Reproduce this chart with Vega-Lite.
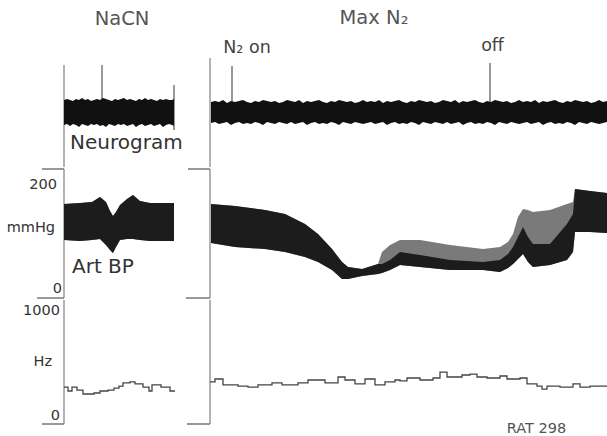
{
  "$schema": "https://vega.github.io/schema/vega-lite/v6.json",
  "padding": 0,
  "spacing": 0,
  "background": "white",
  "config": {"view": {"stroke": null}, "font": "DejaVu Sans", "concat": {"spacing": 0}},
  "datasets": {
    "neuro": [
      {"seg": "NaCN", "t": 0, "top": 12, "bot": -13},
      {"seg": "NaCN", "t": 3, "top": 13, "bot": -12},
      {"seg": "NaCN", "t": 6, "top": 12, "bot": -14},
      {"seg": "NaCN", "t": 9, "top": 11, "bot": -12},
      {"seg": "NaCN", "t": 12, "top": 13, "bot": -13},
      {"seg": "NaCN", "t": 15, "top": 12, "bot": -15},
      {"seg": "NaCN", "t": 18, "top": 14, "bot": -12},
      {"seg": "NaCN", "t": 21, "top": 12, "bot": -13},
      {"seg": "NaCN", "t": 24, "top": 13, "bot": -14},
      {"seg": "NaCN", "t": 27, "top": 11, "bot": -12},
      {"seg": "NaCN", "t": 30, "top": 12, "bot": -13},
      {"seg": "NaCN", "t": 33, "top": 13, "bot": -12},
      {"seg": "NaCN", "t": 36, "top": 12, "bot": -14},
      {"seg": "NaCN", "t": 39, "top": 14, "bot": -13},
      {"seg": "NaCN", "t": 42, "top": 13, "bot": -15},
      {"seg": "NaCN", "t": 45, "top": 12, "bot": -12},
      {"seg": "NaCN", "t": 48, "top": 11, "bot": -13},
      {"seg": "NaCN", "t": 51, "top": 13, "bot": -14},
      {"seg": "NaCN", "t": 54, "top": 12, "bot": -12},
      {"seg": "NaCN", "t": 57, "top": 13, "bot": -13},
      {"seg": "NaCN", "t": 60, "top": 14, "bot": -12},
      {"seg": "NaCN", "t": 63, "top": 12, "bot": -14},
      {"seg": "NaCN", "t": 66, "top": 13, "bot": -13},
      {"seg": "NaCN", "t": 69, "top": 12, "bot": -12},
      {"seg": "NaCN", "t": 72, "top": 11, "bot": -15},
      {"seg": "NaCN", "t": 75, "top": 13, "bot": -13},
      {"seg": "NaCN", "t": 78, "top": 12, "bot": -12},
      {"seg": "NaCN", "t": 81, "top": 14, "bot": -14},
      {"seg": "NaCN", "t": 84, "top": 12, "bot": -13},
      {"seg": "NaCN", "t": 87, "top": 13, "bot": -12},
      {"seg": "NaCN", "t": 90, "top": 12, "bot": -14},
      {"seg": "NaCN", "t": 93, "top": 11, "bot": -13},
      {"seg": "NaCN", "t": 96, "top": 13, "bot": -12},
      {"seg": "NaCN", "t": 99, "top": 12, "bot": -15},
      {"seg": "NaCN", "t": 102, "top": 13, "bot": -13},
      {"seg": "NaCN", "t": 105, "top": 12, "bot": -12},
      {"seg": "NaCN", "t": 108, "top": 12, "bot": -13},
      {"seg": "NaCN", "t": 110, "top": 13, "bot": -14},
      {"seg": "MaxN2", "t": 147, "top": 10, "bot": -11},
      {"seg": "MaxN2", "t": 151, "top": 11, "bot": -10},
      {"seg": "MaxN2", "t": 155, "top": 10, "bot": -12},
      {"seg": "MaxN2", "t": 159, "top": 12, "bot": -11},
      {"seg": "MaxN2", "t": 163, "top": 9, "bot": -10},
      {"seg": "MaxN2", "t": 167, "top": 11, "bot": -13},
      {"seg": "MaxN2", "t": 171, "top": 10, "bot": -11},
      {"seg": "MaxN2", "t": 175, "top": 11, "bot": -10},
      {"seg": "MaxN2", "t": 179, "top": 12, "bot": -12},
      {"seg": "MaxN2", "t": 183, "top": 10, "bot": -11},
      {"seg": "MaxN2", "t": 187, "top": 9, "bot": -12},
      {"seg": "MaxN2", "t": 191, "top": 11, "bot": -10},
      {"seg": "MaxN2", "t": 195, "top": 10, "bot": -11},
      {"seg": "MaxN2", "t": 199, "top": 12, "bot": -13},
      {"seg": "MaxN2", "t": 203, "top": 11, "bot": -10},
      {"seg": "MaxN2", "t": 207, "top": 10, "bot": -11},
      {"seg": "MaxN2", "t": 211, "top": 11, "bot": -12},
      {"seg": "MaxN2", "t": 215, "top": 9, "bot": -10},
      {"seg": "MaxN2", "t": 219, "top": 10, "bot": -11},
      {"seg": "MaxN2", "t": 223, "top": 12, "bot": -12},
      {"seg": "MaxN2", "t": 227, "top": 11, "bot": -10},
      {"seg": "MaxN2", "t": 231, "top": 10, "bot": -12},
      {"seg": "MaxN2", "t": 235, "top": 12, "bot": -11},
      {"seg": "MaxN2", "t": 239, "top": 9, "bot": -10},
      {"seg": "MaxN2", "t": 243, "top": 11, "bot": -13},
      {"seg": "MaxN2", "t": 247, "top": 10, "bot": -11},
      {"seg": "MaxN2", "t": 251, "top": 11, "bot": -10},
      {"seg": "MaxN2", "t": 255, "top": 12, "bot": -12},
      {"seg": "MaxN2", "t": 259, "top": 10, "bot": -11},
      {"seg": "MaxN2", "t": 263, "top": 9, "bot": -12},
      {"seg": "MaxN2", "t": 267, "top": 11, "bot": -10},
      {"seg": "MaxN2", "t": 271, "top": 10, "bot": -11},
      {"seg": "MaxN2", "t": 275, "top": 12, "bot": -13},
      {"seg": "MaxN2", "t": 279, "top": 11, "bot": -10},
      {"seg": "MaxN2", "t": 283, "top": 10, "bot": -11},
      {"seg": "MaxN2", "t": 287, "top": 11, "bot": -12},
      {"seg": "MaxN2", "t": 291, "top": 9, "bot": -10},
      {"seg": "MaxN2", "t": 295, "top": 10, "bot": -11},
      {"seg": "MaxN2", "t": 299, "top": 12, "bot": -12},
      {"seg": "MaxN2", "t": 303, "top": 10, "bot": -11},
      {"seg": "MaxN2", "t": 307, "top": 11, "bot": -10},
      {"seg": "MaxN2", "t": 311, "top": 10, "bot": -12},
      {"seg": "MaxN2", "t": 315, "top": 12, "bot": -11},
      {"seg": "MaxN2", "t": 319, "top": 9, "bot": -10},
      {"seg": "MaxN2", "t": 323, "top": 11, "bot": -13},
      {"seg": "MaxN2", "t": 327, "top": 10, "bot": -11},
      {"seg": "MaxN2", "t": 331, "top": 11, "bot": -10},
      {"seg": "MaxN2", "t": 335, "top": 12, "bot": -12},
      {"seg": "MaxN2", "t": 339, "top": 10, "bot": -11},
      {"seg": "MaxN2", "t": 343, "top": 9, "bot": -12},
      {"seg": "MaxN2", "t": 347, "top": 11, "bot": -10},
      {"seg": "MaxN2", "t": 351, "top": 10, "bot": -11},
      {"seg": "MaxN2", "t": 355, "top": 12, "bot": -13},
      {"seg": "MaxN2", "t": 359, "top": 11, "bot": -10},
      {"seg": "MaxN2", "t": 363, "top": 10, "bot": -11},
      {"seg": "MaxN2", "t": 367, "top": 11, "bot": -12},
      {"seg": "MaxN2", "t": 371, "top": 9, "bot": -10},
      {"seg": "MaxN2", "t": 375, "top": 10, "bot": -11},
      {"seg": "MaxN2", "t": 379, "top": 12, "bot": -12},
      {"seg": "MaxN2", "t": 383, "top": 11, "bot": -10},
      {"seg": "MaxN2", "t": 387, "top": 10, "bot": -12},
      {"seg": "MaxN2", "t": 391, "top": 12, "bot": -11},
      {"seg": "MaxN2", "t": 395, "top": 9, "bot": -10},
      {"seg": "MaxN2", "t": 399, "top": 11, "bot": -13},
      {"seg": "MaxN2", "t": 403, "top": 10, "bot": -11},
      {"seg": "MaxN2", "t": 407, "top": 11, "bot": -10},
      {"seg": "MaxN2", "t": 411, "top": 12, "bot": -12},
      {"seg": "MaxN2", "t": 415, "top": 10, "bot": -11},
      {"seg": "MaxN2", "t": 419, "top": 9, "bot": -12},
      {"seg": "MaxN2", "t": 423, "top": 11, "bot": -10},
      {"seg": "MaxN2", "t": 427, "top": 10, "bot": -11},
      {"seg": "MaxN2", "t": 431, "top": 12, "bot": -13},
      {"seg": "MaxN2", "t": 435, "top": 11, "bot": -10},
      {"seg": "MaxN2", "t": 439, "top": 10, "bot": -11},
      {"seg": "MaxN2", "t": 443, "top": 11, "bot": -12},
      {"seg": "MaxN2", "t": 447, "top": 9, "bot": -10},
      {"seg": "MaxN2", "t": 451, "top": 10, "bot": -11},
      {"seg": "MaxN2", "t": 455, "top": 12, "bot": -12},
      {"seg": "MaxN2", "t": 459, "top": 10, "bot": -11},
      {"seg": "MaxN2", "t": 463, "top": 11, "bot": -10},
      {"seg": "MaxN2", "t": 467, "top": 10, "bot": -12},
      {"seg": "MaxN2", "t": 471, "top": 12, "bot": -11},
      {"seg": "MaxN2", "t": 475, "top": 9, "bot": -10},
      {"seg": "MaxN2", "t": 479, "top": 11, "bot": -13},
      {"seg": "MaxN2", "t": 483, "top": 10, "bot": -11},
      {"seg": "MaxN2", "t": 487, "top": 11, "bot": -10},
      {"seg": "MaxN2", "t": 491, "top": 12, "bot": -12},
      {"seg": "MaxN2", "t": 495, "top": 10, "bot": -11},
      {"seg": "MaxN2", "t": 499, "top": 9, "bot": -12},
      {"seg": "MaxN2", "t": 503, "top": 11, "bot": -10},
      {"seg": "MaxN2", "t": 507, "top": 10, "bot": -11},
      {"seg": "MaxN2", "t": 511, "top": 12, "bot": -13},
      {"seg": "MaxN2", "t": 515, "top": 11, "bot": -10},
      {"seg": "MaxN2", "t": 519, "top": 10, "bot": -11},
      {"seg": "MaxN2", "t": 523, "top": 11, "bot": -12},
      {"seg": "MaxN2", "t": 527, "top": 9, "bot": -10},
      {"seg": "MaxN2", "t": 531, "top": 10, "bot": -11},
      {"seg": "MaxN2", "t": 535, "top": 12, "bot": -12},
      {"seg": "MaxN2", "t": 539, "top": 10, "bot": -11},
      {"seg": "MaxN2", "t": 543, "top": 11, "bot": -10}
    ],
    "bp": [
      {"seg": "NaCN", "t": 0, "g": 145.7, "top": 145.7, "bot": 89.9},
      {"seg": "NaCN", "t": 16, "g": 147.3, "top": 147.3, "bot": 88.4},
      {"seg": "NaCN", "t": 28, "g": 148.8, "top": 148.8, "bot": 89.9},
      {"seg": "NaCN", "t": 36, "g": 156.6, "top": 156.6, "bot": 91.5},
      {"seg": "NaCN", "t": 42, "g": 148.8, "top": 148.8, "bot": 82.2},
      {"seg": "NaCN", "t": 46, "g": 134.9, "top": 134.9, "bot": 74.4},
      {"seg": "NaCN", "t": 49, "g": 127.1, "top": 127.1, "bot": 69.8},
      {"seg": "NaCN", "t": 52, "g": 133.3, "top": 133.3, "bot": 79.1},
      {"seg": "NaCN", "t": 56, "g": 144.2, "top": 144.2, "bot": 89.9},
      {"seg": "NaCN", "t": 63, "g": 153.5, "top": 153.5, "bot": 91.5},
      {"seg": "NaCN", "t": 69, "g": 159.7, "top": 159.7, "bot": 91.5},
      {"seg": "NaCN", "t": 76, "g": 150.4, "top": 150.4, "bot": 89.9},
      {"seg": "NaCN", "t": 86, "g": 147.3, "top": 147.3, "bot": 88.4},
      {"seg": "NaCN", "t": 96, "g": 147.3, "top": 147.3, "bot": 88.4},
      {"seg": "NaCN", "t": 110, "g": 147.3, "top": 147.3, "bot": 88.4},
      {"seg": "MaxN2", "t": 147, "g": 145.7, "top": 145.7, "bot": 85.3},
      {"seg": "MaxN2", "t": 171, "g": 142.6, "top": 142.6, "bot": 79.1},
      {"seg": "MaxN2", "t": 201, "g": 136.4, "top": 136.4, "bot": 76.0},
      {"seg": "MaxN2", "t": 221, "g": 130.2, "top": 130.2, "bot": 71.3},
      {"seg": "MaxN2", "t": 241, "g": 114.7, "top": 114.7, "bot": 63.6},
      {"seg": "MaxN2", "t": 254, "g": 99.2, "top": 99.2, "bot": 55.8},
      {"seg": "MaxN2", "t": 268, "g": 76.0, "top": 76.0, "bot": 43.4},
      {"seg": "MaxN2", "t": 278, "g": 55.8, "top": 55.8, "bot": 29.5},
      {"seg": "MaxN2", "t": 284, "g": 48.1, "top": 48.1, "bot": 29.5},
      {"seg": "MaxN2", "t": 298, "g": 45.0, "top": 45.0, "bot": 34.1},
      {"seg": "MaxN2", "t": 314, "g": 52.7, "top": 52.7, "bot": 37.2},
      {"seg": "MaxN2", "t": 318, "g": 71.3, "top": 52.7, "bot": 38.8},
      {"seg": "MaxN2", "t": 326, "g": 82.2, "top": 58.9, "bot": 43.4},
      {"seg": "MaxN2", "t": 336, "g": 89.9, "top": 71.3, "bot": 51.2},
      {"seg": "MaxN2", "t": 356, "g": 89.9, "top": 66.7, "bot": 48.1},
      {"seg": "MaxN2", "t": 386, "g": 82.2, "top": 58.9, "bot": 43.4},
      {"seg": "MaxN2", "t": 419, "g": 76.0, "top": 55.8, "bot": 43.4},
      {"seg": "MaxN2", "t": 436, "g": 79.1, "top": 58.9, "bot": 40.3},
      {"seg": "MaxN2", "t": 444, "g": 86.8, "top": 68.2, "bot": 46.5},
      {"seg": "MaxN2", "t": 449, "g": 99.2, "top": 79.1, "bot": 52.7},
      {"seg": "MaxN2", "t": 454, "g": 125.6, "top": 94.6, "bot": 60.5},
      {"seg": "MaxN2", "t": 459, "g": 138.0, "top": 110.1, "bot": 68.2},
      {"seg": "MaxN2", "t": 464, "g": 136.4, "top": 94.6, "bot": 55.8},
      {"seg": "MaxN2", "t": 469, "g": 133.3, "top": 83.7, "bot": 48.1},
      {"seg": "MaxN2", "t": 486, "g": 136.4, "top": 83.7, "bot": 51.2},
      {"seg": "MaxN2", "t": 503, "g": 145.7, "top": 114.7, "bot": 58.9},
      {"seg": "MaxN2", "t": 509, "g": 148.8, "top": 130.2, "bot": 71.3},
      {"seg": "MaxN2", "t": 511, "g": 169.0, "top": 169.0, "bot": 102.3},
      {"seg": "MaxN2", "t": 526, "g": 165.9, "top": 165.9, "bot": 102.3},
      {"seg": "MaxN2", "t": 543, "g": 162.8, "top": 162.8, "bot": 100.8}
    ],
    "hz": [
      {"seg": "NaCN", "t": 0, "hz": 298},
      {"seg": "NaCN", "t": 4, "hz": 266},
      {"seg": "NaCN", "t": 8, "hz": 298},
      {"seg": "NaCN", "t": 13, "hz": 274},
      {"seg": "NaCN", "t": 19, "hz": 242},
      {"seg": "NaCN", "t": 30, "hz": 250},
      {"seg": "NaCN", "t": 36, "hz": 266},
      {"seg": "NaCN", "t": 44, "hz": 274},
      {"seg": "NaCN", "t": 50, "hz": 290},
      {"seg": "NaCN", "t": 55, "hz": 306},
      {"seg": "NaCN", "t": 59, "hz": 331},
      {"seg": "NaCN", "t": 66, "hz": 339},
      {"seg": "NaCN", "t": 71, "hz": 323},
      {"seg": "NaCN", "t": 79, "hz": 298},
      {"seg": "NaCN", "t": 85, "hz": 266},
      {"seg": "NaCN", "t": 88, "hz": 315},
      {"seg": "NaCN", "t": 97, "hz": 298},
      {"seg": "NaCN", "t": 106, "hz": 266},
      {"seg": "NaCN", "t": 111, "hz": 266},
      {"seg": "MaxN2", "t": 146, "hz": 339},
      {"seg": "MaxN2", "t": 151, "hz": 363},
      {"seg": "MaxN2", "t": 159, "hz": 315},
      {"seg": "MaxN2", "t": 174, "hz": 306},
      {"seg": "MaxN2", "t": 184, "hz": 298},
      {"seg": "MaxN2", "t": 194, "hz": 315},
      {"seg": "MaxN2", "t": 208, "hz": 331},
      {"seg": "MaxN2", "t": 218, "hz": 315},
      {"seg": "MaxN2", "t": 234, "hz": 331},
      {"seg": "MaxN2", "t": 244, "hz": 355},
      {"seg": "MaxN2", "t": 261, "hz": 331},
      {"seg": "MaxN2", "t": 274, "hz": 379},
      {"seg": "MaxN2", "t": 281, "hz": 355},
      {"seg": "MaxN2", "t": 291, "hz": 323},
      {"seg": "MaxN2", "t": 301, "hz": 363},
      {"seg": "MaxN2", "t": 311, "hz": 315},
      {"seg": "MaxN2", "t": 321, "hz": 339},
      {"seg": "MaxN2", "t": 331, "hz": 355},
      {"seg": "MaxN2", "t": 336, "hz": 347},
      {"seg": "MaxN2", "t": 343, "hz": 371},
      {"seg": "MaxN2", "t": 356, "hz": 355},
      {"seg": "MaxN2", "t": 369, "hz": 371},
      {"seg": "MaxN2", "t": 376, "hz": 419},
      {"seg": "MaxN2", "t": 383, "hz": 379},
      {"seg": "MaxN2", "t": 398, "hz": 395},
      {"seg": "MaxN2", "t": 406, "hz": 403},
      {"seg": "MaxN2", "t": 413, "hz": 379},
      {"seg": "MaxN2", "t": 423, "hz": 371},
      {"seg": "MaxN2", "t": 436, "hz": 387},
      {"seg": "MaxN2", "t": 443, "hz": 363},
      {"seg": "MaxN2", "t": 456, "hz": 371},
      {"seg": "MaxN2", "t": 463, "hz": 323},
      {"seg": "MaxN2", "t": 473, "hz": 306},
      {"seg": "MaxN2", "t": 478, "hz": 282},
      {"seg": "MaxN2", "t": 483, "hz": 306},
      {"seg": "MaxN2", "t": 496, "hz": 298},
      {"seg": "MaxN2", "t": 509, "hz": 323},
      {"seg": "MaxN2", "t": 516, "hz": 298},
      {"seg": "MaxN2", "t": 526, "hz": 306},
      {"seg": "MaxN2", "t": 543, "hz": 306}
    ],
    "rules": [
      {"row": "neuro", "kind": "frame", "t": 0, "t2": 0, "v": 47, "v2": -55},
      {"row": "neuro", "kind": "frame", "t": 146, "t2": 146, "v": 54, "v2": -55},
      {"row": "neuro", "kind": "marker", "t": 38, "t2": 38, "v": 47, "v2": 12},
      {"row": "neuro", "kind": "marker", "t": 168, "t2": 168, "v": 46, "v2": 10},
      {"row": "neuro", "kind": "marker", "t": 426, "t2": 426, "v": 49, "v2": 10},
      {"row": "neuro", "kind": "marker", "t": 110, "t2": 110, "v": 27, "v2": -18},
      {"row": "bp", "kind": "frame", "t": 0, "t2": 0, "v": 200, "v2": 0},
      {"row": "bp", "kind": "frame", "t": 146, "t2": 146, "v": 200, "v2": 0},
      {"row": "bp", "kind": "tick", "t": -22, "t2": 0, "v": 200, "v2": 200},
      {"row": "bp", "kind": "tick", "t": -27, "t2": 0, "v": 0, "v2": 0},
      {"row": "bp", "kind": "tick", "t": 124, "t2": 146, "v": 200, "v2": 200},
      {"row": "bp", "kind": "tick", "t": 122, "t2": 146, "v": 0, "v2": 0},
      {"row": "hz", "kind": "frame", "t": 0, "t2": 0, "v": 1000, "v2": 0},
      {"row": "hz", "kind": "frame", "t": 146, "t2": 146, "v": 1000, "v2": 0},
      {"row": "hz", "kind": "tick", "t": -22, "t2": 0, "v": 0, "v2": 0},
      {"row": "hz", "kind": "tick", "t": 123, "t2": 146, "v": 0, "v2": 0}
    ],
    "labels": [
      {"row": "neuro", "kind": "title", "t": 58, "v": 93.5, "text": "NaCN"},
      {"row": "neuro", "kind": "title", "t": 310, "v": 94.5, "text": "Max N₂"},
      {"row": "neuro", "kind": "event", "t": 183, "v": 64.5, "text": "N₂ on"},
      {"row": "neuro", "kind": "event", "t": 428.5, "v": 66, "text": "off"},
      {"row": "neuro", "kind": "channel", "t": 6, "v": -30.5, "text": "Neurogram"},
      {"row": "bp", "kind": "channel", "t": 8, "v": 47.5, "text": "Art BP"},
      {"row": "bp", "kind": "axis", "t": -7, "v": 175, "text": "200"},
      {"row": "bp", "kind": "axis", "t": -9, "v": 108.5, "text": "mmHg"},
      {"row": "bp", "kind": "axis", "t": -2, "v": 14, "text": "0"},
      {"row": "hz", "kind": "axis", "t": -4, "v": 911, "text": "1000"},
      {"row": "hz", "kind": "axis", "t": -12, "v": 504, "text": "Hz"},
      {"row": "hz", "kind": "axis", "t": -4, "v": 64.5, "text": "0"},
      {"row": "hz", "kind": "credit", "t": 472.5, "v": -40, "text": "RAT 298"}
    ]
  },
  "vconcat": [
    {
      "width": 607,
      "height": 167,
      "layer": [
        {
          "data": {"name": "rules"},
          "transform": [{"filter": "datum.row == 'neuro' && datum.kind == 'frame'"}],
          "mark": {"type": "rule", "color": "#9a9a9a", "strokeWidth": 1.5},
          "encoding": {
            "x": {"field": "t", "type": "quantitative", "scale": {"domain": [-64, 543], "nice": false, "zero": false}, "axis": null},
            "x2": {"field": "t2"},
            "y": {"field": "v", "type": "quantitative", "scale": {"domain": [-55, 112], "nice": false, "zero": false}, "axis": null},
            "y2": {"field": "v2"}
          }
        },
        {
          "data": {"name": "rules"},
          "transform": [{"filter": "datum.row == 'neuro' && datum.kind == 'marker'"}],
          "mark": {"type": "rule", "color": "#555555", "strokeWidth": 1.2},
          "encoding": {
            "x": {"field": "t", "type": "quantitative", "scale": {"domain": [-64, 543], "nice": false, "zero": false}, "axis": null},
            "x2": {"field": "t2"},
            "y": {"field": "v", "type": "quantitative", "scale": {"domain": [-55, 112], "nice": false, "zero": false}, "axis": null},
            "y2": {"field": "v2"}
          }
        },
        {
          "data": {"name": "neuro"},
          "mark": {"type": "area", "color": "#111111", "opacity": 1},
          "encoding": {
            "x": {"field": "t", "type": "quantitative", "scale": {"domain": [-64, 543], "nice": false, "zero": false}, "axis": null},
            "y": {"field": "top", "type": "quantitative", "scale": {"domain": [-55, 112], "nice": false, "zero": false}, "axis": null},
            "y2": {"field": "bot"},
            "detail": {"field": "seg"}
          }
        },
        {
          "data": {"name": "labels"},
          "transform": [{"filter": "datum.row == 'neuro' && datum.kind == 'title'"}],
          "mark": {"type": "text", "fontSize": 19.5, "align": "center", "baseline": "middle", "color": "#555555"},
          "encoding": {
            "x": {"field": "t", "type": "quantitative", "scale": {"domain": [-64, 543], "nice": false, "zero": false}, "axis": null},
            "y": {"field": "v", "type": "quantitative", "scale": {"domain": [-55, 112], "nice": false, "zero": false}, "axis": null},
            "text": {"field": "text"}
          }
        },
        {
          "data": {"name": "labels"},
          "transform": [{"filter": "datum.row == 'neuro' && datum.kind == 'event'"}],
          "mark": {"type": "text", "fontSize": 17.5, "align": "center", "baseline": "middle", "color": "#444444"},
          "encoding": {
            "x": {"field": "t", "type": "quantitative", "scale": {"domain": [-64, 543], "nice": false, "zero": false}, "axis": null},
            "y": {"field": "v", "type": "quantitative", "scale": {"domain": [-55, 112], "nice": false, "zero": false}, "axis": null},
            "text": {"field": "text"}
          }
        },
        {
          "data": {"name": "labels"},
          "transform": [{"filter": "datum.row == 'neuro' && datum.kind == 'channel'"}],
          "mark": {"type": "text", "fontSize": 20, "align": "left", "baseline": "middle", "color": "#333333"},
          "encoding": {
            "x": {"field": "t", "type": "quantitative", "scale": {"domain": [-64, 543], "nice": false, "zero": false}, "axis": null},
            "y": {"field": "v", "type": "quantitative", "scale": {"domain": [-55, 112], "nice": false, "zero": false}, "axis": null},
            "text": {"field": "text"}
          }
        }
      ]
    },
    {
      "width": 607,
      "height": 129,
      "layer": [
        {
          "data": {"name": "rules"},
          "transform": [{"filter": "datum.row == 'bp' && datum.kind == 'frame'"}],
          "mark": {"type": "rule", "color": "#9a9a9a", "strokeWidth": 1.5},
          "encoding": {
            "x": {"field": "t", "type": "quantitative", "scale": {"domain": [-64, 543], "nice": false, "zero": false}, "axis": null},
            "x2": {"field": "t2"},
            "y": {"field": "v", "type": "quantitative", "scale": {"domain": [0, 200], "nice": false, "zero": false}, "axis": null},
            "y2": {"field": "v2"}
          }
        },
        {
          "data": {"name": "rules"},
          "transform": [{"filter": "datum.row == 'bp' && datum.kind == 'tick'"}],
          "mark": {"type": "rule", "color": "#777777", "strokeWidth": 1.5},
          "encoding": {
            "x": {"field": "t", "type": "quantitative", "scale": {"domain": [-64, 543], "nice": false, "zero": false}, "axis": null},
            "x2": {"field": "t2"},
            "y": {"field": "v", "type": "quantitative", "scale": {"domain": [0, 200], "nice": false, "zero": false}, "axis": null},
            "y2": {"field": "v2"}
          }
        },
        {
          "data": {"name": "bp"},
          "mark": {"type": "area", "color": "#7a7a7a", "opacity": 1},
          "encoding": {
            "x": {"field": "t", "type": "quantitative", "scale": {"domain": [-64, 543], "nice": false, "zero": false}, "axis": null},
            "y": {"field": "g", "type": "quantitative", "scale": {"domain": [0, 200], "nice": false, "zero": false}, "axis": null},
            "y2": {"field": "bot"},
            "detail": {"field": "seg"}
          }
        },
        {
          "data": {"name": "bp"},
          "mark": {"type": "area", "color": "#1c1c1c", "opacity": 1},
          "encoding": {
            "x": {"field": "t", "type": "quantitative", "scale": {"domain": [-64, 543], "nice": false, "zero": false}, "axis": null},
            "y": {"field": "top", "type": "quantitative", "scale": {"domain": [0, 200], "nice": false, "zero": false}, "axis": null},
            "y2": {"field": "bot"},
            "detail": {"field": "seg"}
          }
        },
        {
          "data": {"name": "labels"},
          "transform": [{"filter": "datum.row == 'bp' && datum.kind == 'channel'"}],
          "mark": {"type": "text", "fontSize": 20, "align": "left", "baseline": "middle", "color": "#333333"},
          "encoding": {
            "x": {"field": "t", "type": "quantitative", "scale": {"domain": [-64, 543], "nice": false, "zero": false}, "axis": null},
            "y": {"field": "v", "type": "quantitative", "scale": {"domain": [0, 200], "nice": false, "zero": false}, "axis": null},
            "text": {"field": "text"}
          }
        },
        {
          "data": {"name": "labels"},
          "transform": [{"filter": "datum.row == 'bp' && datum.kind == 'axis'"}],
          "mark": {"type": "text", "fontSize": 14.5, "align": "right", "baseline": "middle", "color": "#333333"},
          "encoding": {
            "x": {"field": "t", "type": "quantitative", "scale": {"domain": [-64, 543], "nice": false, "zero": false}, "axis": null},
            "y": {"field": "v", "type": "quantitative", "scale": {"domain": [0, 200], "nice": false, "zero": false}, "axis": null},
            "text": {"field": "text"}
          }
        }
      ]
    },
    {
      "width": 607,
      "height": 140,
      "layer": [
        {
          "data": {"name": "rules"},
          "transform": [{"filter": "datum.row == 'hz' && datum.kind == 'frame'"}],
          "mark": {"type": "rule", "color": "#9a9a9a", "strokeWidth": 1.5},
          "encoding": {
            "x": {"field": "t", "type": "quantitative", "scale": {"domain": [-64, 543], "nice": false, "zero": false}, "axis": null},
            "x2": {"field": "t2"},
            "y": {"field": "v", "type": "quantitative", "scale": {"domain": [-129, 1000], "nice": false, "zero": false}, "axis": null},
            "y2": {"field": "v2"}
          }
        },
        {
          "data": {"name": "rules"},
          "transform": [{"filter": "datum.row == 'hz' && datum.kind == 'tick'"}],
          "mark": {"type": "rule", "color": "#777777", "strokeWidth": 1.5},
          "encoding": {
            "x": {"field": "t", "type": "quantitative", "scale": {"domain": [-64, 543], "nice": false, "zero": false}, "axis": null},
            "x2": {"field": "t2"},
            "y": {"field": "v", "type": "quantitative", "scale": {"domain": [-129, 1000], "nice": false, "zero": false}, "axis": null},
            "y2": {"field": "v2"}
          }
        },
        {
          "data": {"name": "hz"},
          "mark": {"type": "line", "interpolate": "step-after", "color": "#444444", "strokeWidth": 1.3},
          "encoding": {
            "x": {"field": "t", "type": "quantitative", "scale": {"domain": [-64, 543], "nice": false, "zero": false}, "axis": null},
            "y": {"field": "hz", "type": "quantitative", "scale": {"domain": [-129, 1000], "nice": false, "zero": false}, "axis": null},
            "detail": {"field": "seg"}
          }
        },
        {
          "data": {"name": "labels"},
          "transform": [{"filter": "datum.row == 'hz' && datum.kind == 'axis'"}],
          "mark": {"type": "text", "fontSize": 14.5, "align": "right", "baseline": "middle", "color": "#333333"},
          "encoding": {
            "x": {"field": "t", "type": "quantitative", "scale": {"domain": [-64, 543], "nice": false, "zero": false}, "axis": null},
            "y": {"field": "v", "type": "quantitative", "scale": {"domain": [-129, 1000], "nice": false, "zero": false}, "axis": null},
            "text": {"field": "text"}
          }
        },
        {
          "data": {"name": "labels"},
          "transform": [{"filter": "datum.row == 'hz' && datum.kind == 'credit'"}],
          "mark": {"type": "text", "fontSize": 14.5, "align": "center", "baseline": "middle", "color": "#555555"},
          "encoding": {
            "x": {"field": "t", "type": "quantitative", "scale": {"domain": [-64, 543], "nice": false, "zero": false}, "axis": null},
            "y": {"field": "v", "type": "quantitative", "scale": {"domain": [-129, 1000], "nice": false, "zero": false}, "axis": null},
            "text": {"field": "text"}
          }
        }
      ]
    }
  ]
}
